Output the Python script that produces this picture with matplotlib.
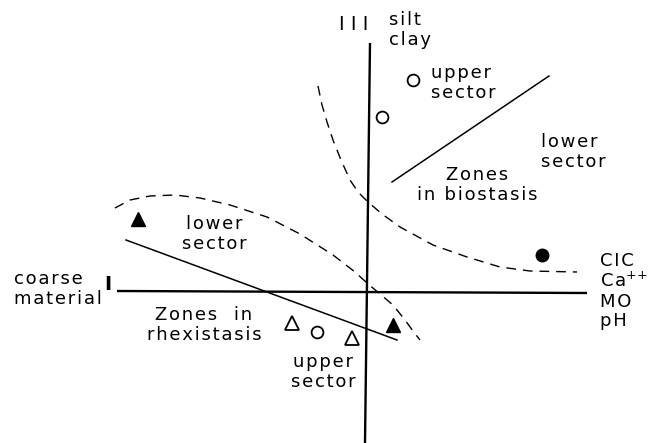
import matplotlib
matplotlib.use("Agg")
import matplotlib.pyplot as plt

# Coordinates: origin at the crossing of the axes (x right, y up)
OX, OY = 368, 292

def P(pts):
    return [p[0] - OX for p in pts], [OY - p[1] for p in pts]

# Axes extents
h_axis = [(117, 291), (587, 293)]
v_axis = [(370, 43), (365, 443)]

# Solid separating lines
line_bio = [(392, 182), (549, 76)]
line_rhex = [(126, 240), (397, 340)]

# Dashed boundaries
dash_bio = [(318, 86), (322, 105), (327, 122), (333, 140), (341, 160), (350, 180),
            (358, 192), (368, 202), (382, 214), (400, 227), (433, 245), (467, 257),
            (500, 267), (530, 271), (577, 272)]
dash_rhex = [(115, 208), (130, 200), (150, 196), (175, 195), (200, 198), (230, 205),
             (267, 217), (300, 234), (333, 255), (355, 272), (367, 283), (380, 294),
             (393, 305), (405, 320), (413, 331), (420, 340)]

# Points
open_circles = [(413, 80), (382, 117), (317, 332)]
filled_circles = [(542, 255)]
open_triangles = [(292, 323), (352, 338)]
filled_triangles = [(138, 219), (393, 325)]

# Text labels (text, x, y, ha)
labels = [
    ("silt\nclay", 389, 30, "left"),
    ("coarse\nmaterial", 14, 289, "left"),
    ("upper\nsector", 431, 83, "left"),
    ("lower\nsector", 541, 152, "left"),
    ("Zones\nin biostasis", 477, 185, "center"),
    ("lower\nsector", 214, 234, "center"),
    ("Zones  in\nrhexistasis", 204, 325, "center"),
    ("upper\nsector", 323, 372, "center"),
    ("CIC\nCa$^{+\\!+}$\nMO\npH", 600, 291, "left"),
]
numerals = [("I I I", 354, 24, "normal"), ("I", 108, 285, "semibold")]

def spaced(s):
    out = []
    for line in s.split("\n"):
        if "$" in line:
            head, rest = line.split("$", 1)
            out.append("\u200a".join(head) + "$" + rest)
        else:
            out.append("\u200a".join(line))
    return "\n".join(out)

fig = plt.figure(figsize=(6.48, 4.43), dpi=100)
ax = fig.add_axes([0, 0, 1, 1])
ax.set_xlim(0 - OX, 648 - OX)
ax.set_ylim(OY - 443, OY - 0)
ax.axis("off")

ax.plot(*P(h_axis), color="black", lw=1.7, solid_capstyle="butt")
ax.plot(*P(v_axis), color="black", lw=1.7, solid_capstyle="butt")
ax.plot(*P(line_bio), color="black", lw=1.1)
ax.plot(*P(line_rhex), color="black", lw=1.1)
ax.plot(*P(dash_bio), color="black", lw=1.0, dashes=(7, 5))
ax.plot(*P(dash_rhex), color="black", lw=1.0, dashes=(7, 5))

ax.plot(*P(open_circles), "o", ms=8.5, mfc="white", mec="black", mew=1.3, ls="none")
ax.plot(*P(filled_circles), "o", ms=9, mfc="black", mec="black", ls="none")
ax.plot(*P(open_triangles), "^", ms=9.5, mfc="white", mec="black", mew=1.3, ls="none")
ax.plot(*P(filled_triangles), "^", ms=9.5, mfc="black", mec="black", ls="none")

for txt, x, y, ha in labels:
    ax.text(x - OX, OY - y, spaced(txt), ha=ha, va="center", fontsize=13,
            family="DejaVu Sans", linespacing=1.12)
for txt, x, y, w in numerals:
    ax.text(x - OX, OY - y, txt, ha="center", va="center", fontsize=14,
            family="DejaVu Sans", fontweight=w)

fig.savefig("out.png", dpi=100, facecolor="white")
